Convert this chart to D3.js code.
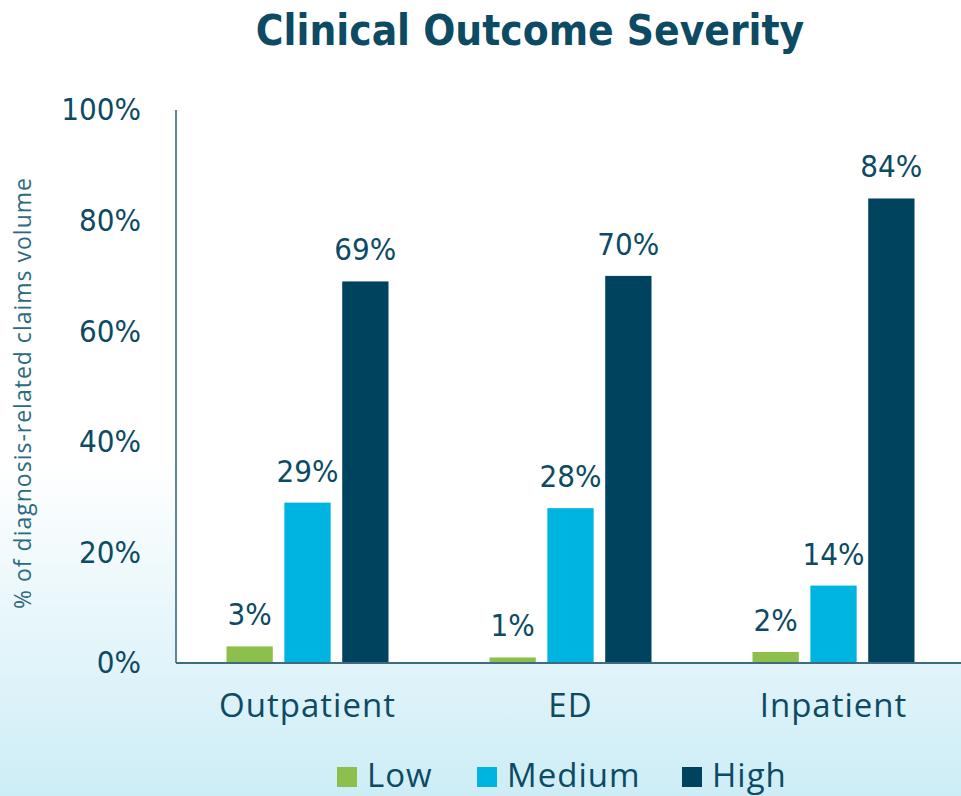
<!DOCTYPE html>
<html lang="en">
<head>
    <meta charset="UTF-8">
    <title>Clinical Outcome Severity</title>
    <script src="https://d3js.org/d3.v7.min.js"></script>
    <style>
        body { margin: 0; background: #fff; }
        .tick-label { font-family: "DejaVu Sans Condensed", "DejaVu Sans", sans-serif; font-size: 31px; fill: #0d4a63; }
        .cat-label { font-family: "Open Sans", sans-serif; font-size: 33px; letter-spacing: 1px; fill: #0d4a63; }
        .val-label { font-family: "DejaVu Sans Condensed", "DejaVu Sans", sans-serif; font-size: 31px; fill: #0d4a63; }
    </style>
</head>
<body>
<script>

    // data
    var categories = ["Outpatient", "ED", "Inpatient"];
    var series = ["Low", "Medium", "High"];
    var low = [3, 1, 2];
    var medium = [29, 28, 14];
    var high = [69, 70, 84];
    var yTicks = [0, 20, 40, 60, 80, 100];
    var colors = ["#8cbf4b", "#00b4e2", "#00435e"];

    var W = 961, H = 796;
    var margin = {top: 110, right: 0, bottom: 133, left: 176};
    var width = 965 - margin.left,
        height = H - margin.top - margin.bottom;

    var values = [low, medium, high];
    var data = [];
    categories.forEach(function(c, i) {
        series.forEach(function(s, j) {
            data.push({cat: c, series: s, value: values[j][i], color: colors[j]});
        });
    });

    var svg = d3.select("body").append("svg")
        .attr("width", W)
        .attr("height", H);

    // background gradient
    var grad = svg.append("defs").append("linearGradient")
        .attr("id", "bg").attr("x1", 0).attr("y1", 0).attr("x2", 0).attr("y2", 1);
    grad.append("stop").attr("offset", "0.58").attr("stop-color", "#ffffff");
    grad.append("stop").attr("offset", "1").attr("stop-color", "#cdedf6");
    svg.append("rect").attr("width", W).attr("height", H).attr("fill", "url(#bg)");

    // title
    svg.append("text")
        .attr("x", 530).attr("y", 45)
        .attr("text-anchor", "middle")
        .style("font-family", "'DejaVu Sans Condensed', 'DejaVu Sans', sans-serif")
        .style("font-weight", "bold")
        .style("font-size", "42px")
        .style("fill", "#0d4a63")
        .text("Clinical Outcome Severity");

    var g = svg.append("g")
        .attr("transform", "translate(" + margin.left + "," + margin.top + ")");

    // plot area is white
    g.append("rect").attr("width", W - margin.left).attr("height", height).attr("fill", "#fff");

    var x0 = d3.scaleBand().domain(categories).range([0, width]);
    var x1 = d3.scaleBand().domain(series).range([50.5, x0.bandwidth() - 50.5]).paddingInner(0.2);
    var y = d3.scaleLinear().domain([0, 100]).range([height, 0]);

    // y tick labels (no tick marks)
    var yAxis = d3.axisLeft(y).tickValues(yTicks).tickSize(0).tickPadding(35)
        .tickFormat(function(d) { return d + "%"; });
    var ya = g.append("g").call(yAxis);
    ya.select(".domain").remove();
    ya.selectAll("text").attr("class", "tick-label").attr("fill", null);

    // bars
    var groups = g.selectAll(".grp").data(categories).enter().append("g")
        .attr("transform", function(d) { return "translate(" + x0(d) + ",0)"; });

    groups.selectAll("rect").data(function(c) { return data.filter(function(d) { return d.cat === c; }); })
        .enter().append("rect")
        .attr("x", function(d) { return x1(d.series); })
        .attr("y", function(d) { return y(d.value); })
        .attr("width", x1.bandwidth())
        .attr("height", function(d) { return height - y(d.value); })
        .attr("fill", function(d) { return d.color; });

    groups.selectAll(".val-label").data(function(c) { return data.filter(function(d) { return d.cat === c; }); })
        .enter().append("text")
        .attr("class", "val-label")
        .attr("text-anchor", "middle")
        .attr("x", function(d) { return x1(d.series) + x1.bandwidth() / 2; })
        .attr("y", function(d) { return y(d.value) - 21; })
        .text(function(d) { return d.value + "%"; });

    // axis lines
    g.append("line").attr("x1", 0).attr("x2", 0).attr("y1", 0).attr("y2", height)
        .attr("stroke", "#5f8799").attr("stroke-width", 2);
    g.append("line").attr("x1", 0).attr("x2", W - margin.left).attr("y1", height).attr("y2", height)
        .attr("stroke", "#3f6b80").attr("stroke-width", 2);

    // category labels
    var xAxis = d3.axisBottom(x0).tickSize(0).tickPadding(31);
    var xa = g.append("g").attr("transform", "translate(0," + height + ")").call(xAxis);
    xa.select(".domain").remove();
    xa.selectAll("text").attr("class", "cat-label").attr("fill", null);

    // y axis title
    svg.append("text")
        .attr("transform", "translate(31,393) rotate(-90)")
        .attr("text-anchor", "middle")
        .style("font-family", "'Open Sans', sans-serif")
        .style("font-size", "23px")
        .style("letter-spacing", "1px")
        .style("fill", "#2b6a80")
        .text("% of diagnosis-related claims volume");

    // legend
    var legX = [337, 477, 682];
    var leg = svg.selectAll(".leg").data(series).enter().append("g")
        .attr("transform", function(d, i) { return "translate(" + legX[i] + ",767)"; });
    leg.append("rect").attr("width", 20).attr("height", 20)
        .attr("fill", function(d, i) { return colors[i]; });
    leg.append("text").attr("class", "cat-label")
        .attr("x", 30).attr("y", 20)
        .text(function(d) { return d; });

</script>
</body>
</html>
